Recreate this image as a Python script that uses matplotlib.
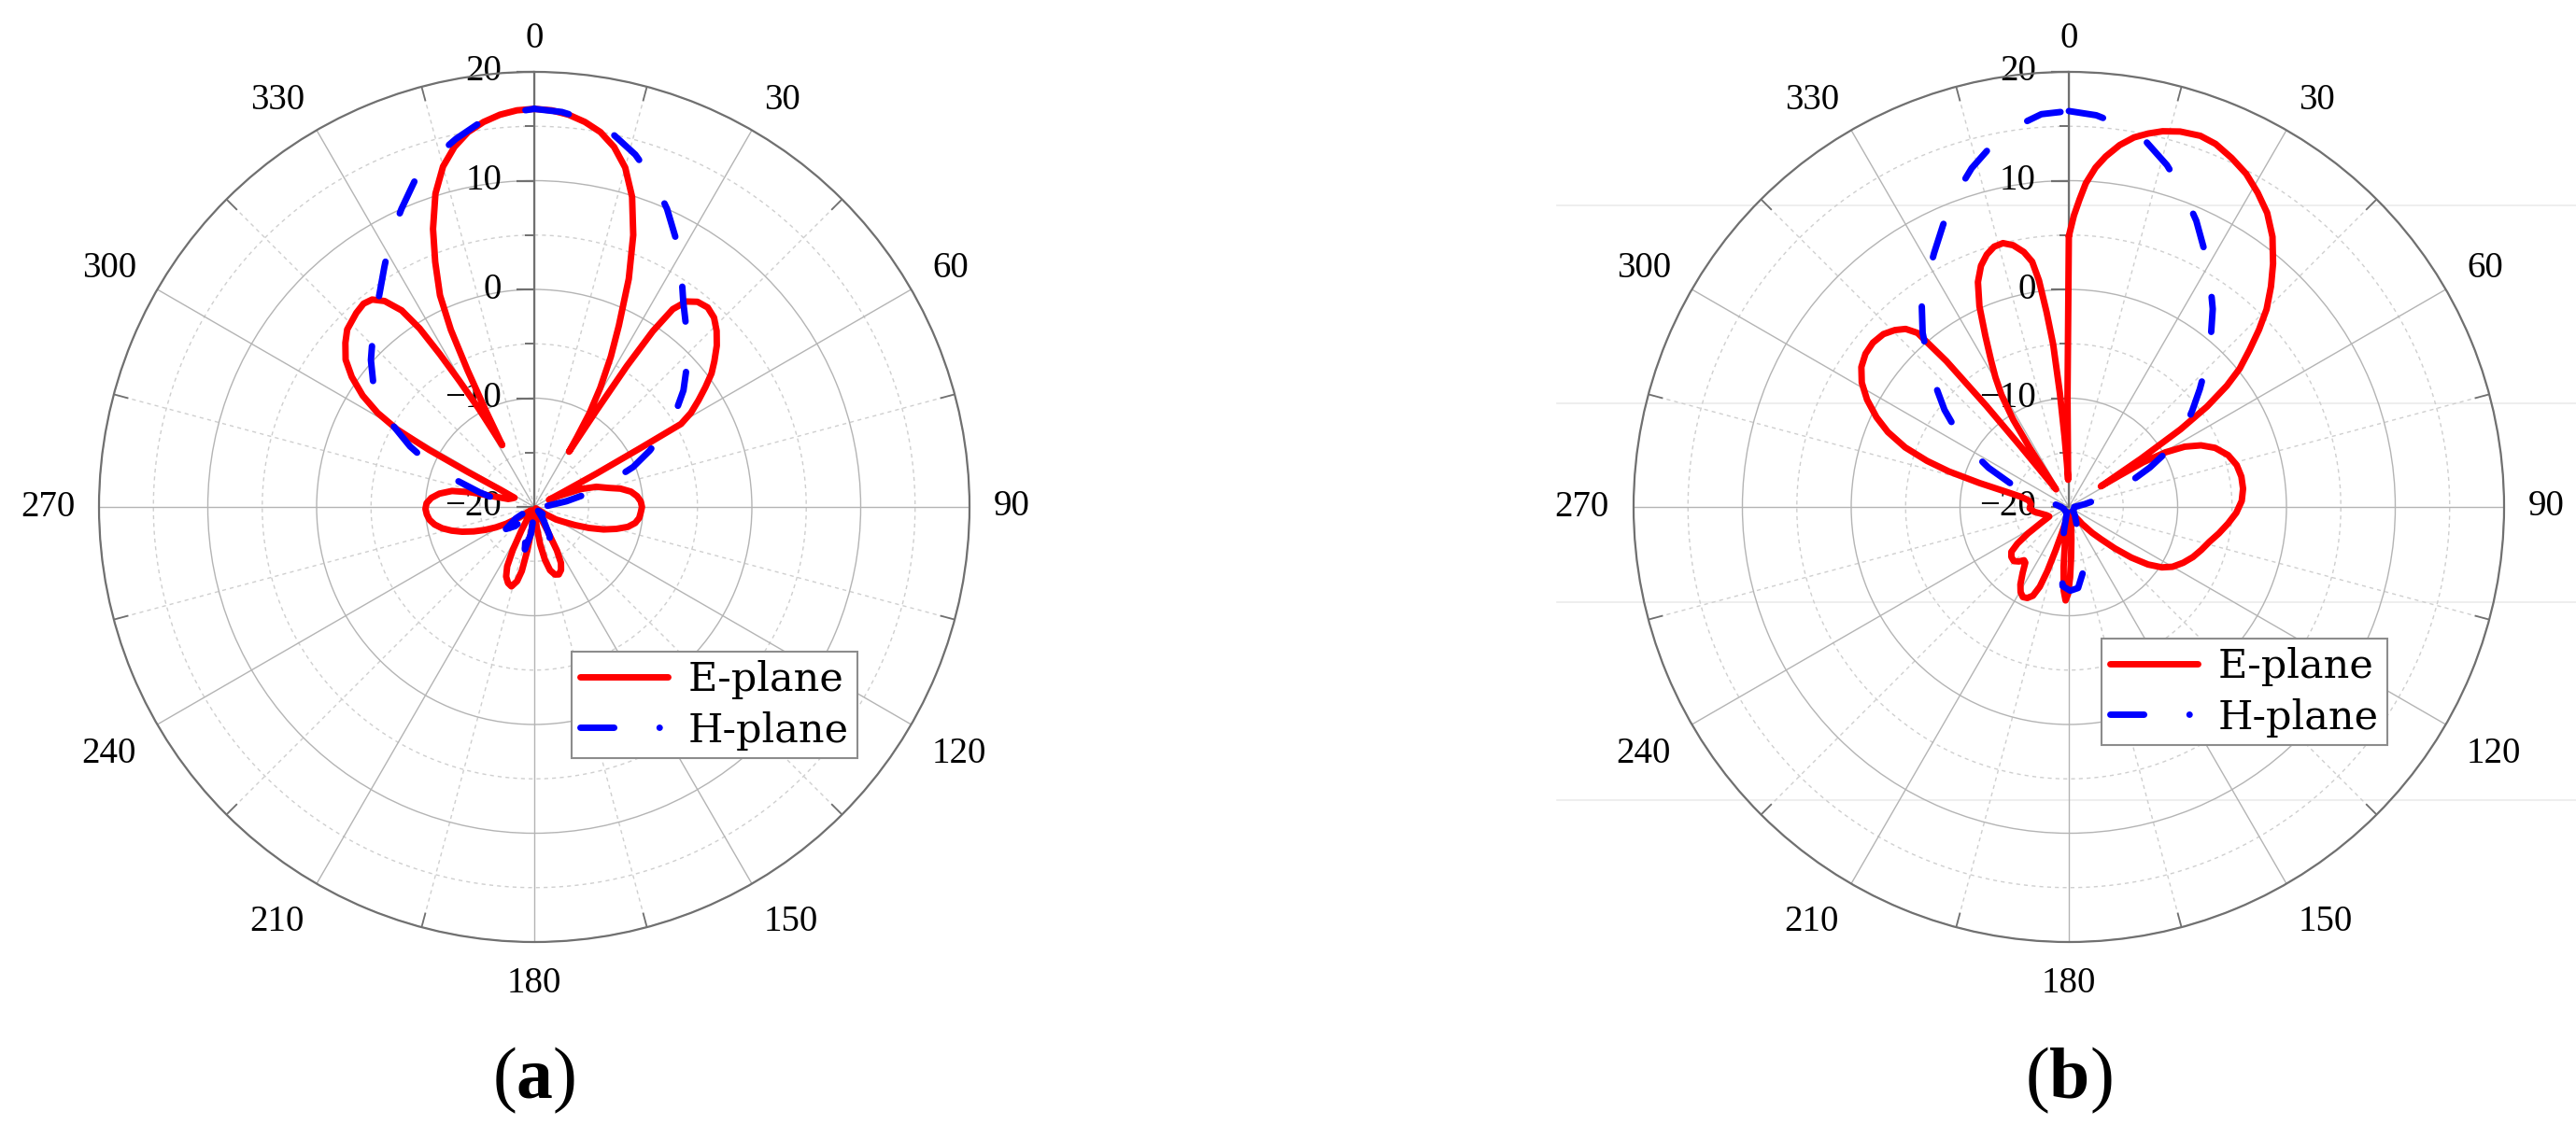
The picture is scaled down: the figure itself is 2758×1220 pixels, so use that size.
import numpy as np
import matplotlib.pyplot as plt
from matplotlib.lines import Line2D
from matplotlib.transforms import offset_copy

plt.rcParams['font.family'] = ['Liberation Serif', 'DejaVu Serif']
plt.rcParams['mathtext.fontset'] = 'custom'
plt.rcParams['mathtext.rm'] = 'Liberation Serif'
plt.rcParams['mathtext.bf'] = 'Liberation Serif:bold'

# (angle in degrees clockwise from top, gain in dB)

# (a) E-plane
a_e_pts = [(0, 16.6), (2.5, 16.5), (5, 16.2), (7.5, 15.7), (10, 15.0), (12.5, 13.9), (15, 12.3),
           (17.5, 9.9), (20, 6.6), (22.5, 2.7), (25, -1.6), (27, -4.5), (29, -7.5), (30.5, -10.0),
           (31.5, -12.5), (32.2, -14.0), (32.8, -9.5), (33.3, -4.5), (34, -0.5), (35, 2.2), (36.5, 3.5),
           (38.5, 4.1), (41, 4.3), (43.5, 4.0), (46, 3.3), (48.5, 2.4), (51, 1.3), (53, 0.4), (55, -0.8),
           (57, -2.0), (59, -3.2), (60.5, -4.5), (61, -9.0), (61.8, -13.5), (62.8, -17.0), (64, -18.5),
           (66, -17.5), (69, -15.4), (72, -14.0), (75.5, -13.0), (78, -11.9), (81, -11.0), (84, -10.5),
           (87, -10.2), (90, -10.1), (93, -10.2), (96, -10.3), (99, -10.6), (102, -11.2), (105, -12.2),
           (108, -13.3), (111, -14.6), (114, -15.9), (117, -17.0), (120, -17.7), (124, -19.0), (130, -19.8),
           (140, -19.8), (149, -19.0), (151, -17.5), (152.5, -15.5), (154.5, -14.3), (157, -13.7),
           (160, -13.4), (163, -13.5), (166, -14.0), (168.5, -15.0), (171, -16.5), (174, -18.5),
           (178, -19.6), (183, -19.6), (186.5, -18.0), (189, -16.0), (191, -14.0), (193, -13.0),
           (196, -12.4), (199, -12.6), (202, -13.1), (204.5, -14.0), (206.5, -15.6), (208.5, -17.5),
           (211, -19.0), (218, -19.6), (228, -19.5), (235, -18.3), (239, -17.0), (242, -16.0), (245, -15.0),
           (248, -14.0), (251, -13.0), (254, -12.1), (257, -11.3), (260, -10.7), (263, -10.3), (266, -10.1),
           (269, -10.0), (272, -10.1), (275, -10.5), (278, -11.2), (281, -12.3), (283, -14.0), (284.5, -16.0),
           (287, -17.5), (291, -17.8), (295, -18.0), (297, -16.5), (297.8, -13.0), (298.5, -9.0),
           (299.5, -5.5), (301, -3.2), (303, -1.2), (305.5, 0.6), (308, 2.0), (311, 3.0), (313.5, 3.7),
           (317.5, 4.2), (320, 4.4), (322, 4.2), (324, 3.4), (326, 1.8), (327.3, -0.5), (328.3, -3.5),
           (329.3, -6.5), (330.5, -9.5), (331.5, -12.0), (332.6, -13.6), (333.3, -10.0), (334, -6.0),
           (334.8, -2.0), (336, 1.3), (338, 4.3), (340, 7.2), (342.5, 10.2), (345, 12.4), (347.5, 13.9),
           (350, 15.0), (352.5, 15.7), (355, 16.2), (357.5, 16.5)]

# (a) H-plane
a_h_pts = [(0, 16.6), (4, 16.4), (8, 15.9), (12, 15.0), (16, 13.7), (20, 12.0), (24, 10.0), (28, 7.8),
           (32, 5.5), (36, 3.3), (40, 1.7), (44, 0.3), (48, -1.2), (52, -2.6), (56, -4.3), (60, -6.2),
           (64, -8.2), (68, -10.2), (72, -12.8), (76, -15.0), (80, -17.0), (84, -18.6), (90, -19.2),
           (100, -19.0), (110, -18.5), (118, -17.5), (123, -17.1), (128, -18.5), (135, -19.5), (145, -18.5),
           (152, -17.0), (156.5, -16.4), (162, -17.5), (170, -19.5), (180, -19.5), (187, -17.5),
           (192.5, -16.0), (198, -17.5), (205, -19.5), (215, -19.0), (225, -17.5), (232, -16.7), (238, -18.0),
           (245, -19.5), (260, -19.5), (272, -18.8), (277, -17.8), (281, -16.6), (285, -14.8), (289, -12.4),
           (292, -9.8), (296, -7.3), (300, -5.0), (304, -2.8), (308, -1.2), (312, 0.2), (316, 1.4), (320, 2.8),
           (324, 4.2), (328, 6.0), (332, 8.1), (336, 10.0), (340, 12.0), (344, 13.4), (348, 14.6),
           (352, 15.7), (356, 16.3)]

# (b) E-plane
b_e_pts = [(0, 4.9), (1, 6.8), (2, 8.3), (3, 9.8), (4.5, 11.3), (6, 12.4), (8, 13.6), (10, 14.5),
           (12, 15.1), (14, 15.6), (16.5, 16.0), (19.5, 16.2), (22, 16.0), (25, 15.4), (28, 14.7), (31, 13.7),
           (34, 12.6), (37, 11.1), (40, 9.2), (42.5, 7.5), (45, 5.7), (47, 3.9), (49, 2.0), (51, 0.2),
           (52.5, -1.7), (54, -4.3), (55.2, -7.5), (56.2, -12.0), (57.2, -16.5), (58.2, -14.5), (59, -12.0),
           (60.5, -9.8), (62.5, -8.0), (65, -6.6), (68, -5.5), (72, -4.6), (76, -4.1), (80, -3.9), (84, -3.9),
           (88, -4.1), (92, -4.6), (96, -5.3), (100, -6.0), (104, -6.7), (108, -7.2), (112, -7.7), (116, -8.3),
           (120, -9.0), (123, -9.8), (126, -11.0), (129, -12.6), (132, -14.3), (135, -15.8), (138, -16.8),
           (142, -18.0), (150, -19.2), (160, -19.5), (168, -19.2), (172, -18.5), (175.5, -17.0),
           (177.5, -15.3), (179, -13.5), (180.5, -12.0), (182, -11.4), (183.5, -12.3), (185, -14.5),
           (186.5, -17.0), (189, -18.7), (192, -18.6), (195, -17.5), (197, -15.8), (198.5, -13.8),
           (200, -12.2), (202, -11.2), (204.5, -10.8), (207, -10.7), (209.5, -11.0), (212, -11.6),
           (215, -12.6), (218, -13.5), (220, -13.6), (222.5, -13.2), (225.5, -12.9), (229, -13.0),
           (232, -13.3), (234.5, -14.2), (237, -15.5), (240, -17.0), (244, -18.0), (250, -17.8),
           (256, -17.4), (262, -16.8), (268, -16.4), (274, -16.5), (279, -16.3), (282, -15.5),
           (283.5, -14.2), (285, -11.5), (286.5, -8.5), (288, -6.3), (290, -4.0), (292.5, -2.0),
           (295, -0.5), (298, 1.0), (301, 2.2), (304, 3.0), (307, 3.4), (310, 3.5), (313, 3.3),
           (315.5, 2.8), (317.5, 2.2), (319, 1.2), (320, -2.5), (320.8, -8.0), (321.5, -13.0),
           (322.5, -16.5), (324, -18.0), (325.5, -16.5), (326.5, -13.5), (327.5, -10.5), (329, -8.0),
           (330.5, -6.3), (332, -4.8), (334, -2.5), (336, 0.2), (338, 2.3), (340, 3.6), (342, 4.4),
           (344, 4.9), (346, 5.0), (348, 4.6), (350, 3.8), (351.5, 2.8), (352.5, 1.0), (353.5, -2.0),
           (354.5, -5.0), (355.5, -9.5), (356.5, -13.5), (357.5, -16.0), (358.5, -17.5), (359.3, -10.0)]

# (b) H-plane
b_h_pts = [(0, 16.4), (4, 16.1), (8, 15.4), (12, 14.3), (16, 12.7), (20, 10.8), (24, 8.8), (28, 6.6),
           (32, 4.5), (36, 2.5), (40, 0.3), (44, -1.8), (48, -3.8), (52, -5.6), (56, -7.2), (60, -9.2),
           (64, -11.7), (68, -14.0), (72, -16.0), (76, -17.5), (80, -18.5), (90, -19.5), (110, -19.5),
           (130, -19.5), (145, -19.0), (150, -18.8), (155.5, -18.3), (161.5, -16.4), (167, -14.0),
           (173.5, -12.5), (179, -12.3), (184.5, -12.7), (189, -15.4), (192, -18.0), (200, -19.5),
           (220, -19.5), (250, -19.5), (270, -19.3), (280, -18.8), (284, -18.2), (288, -17.0), (292, -14.2),
           (296, -11.8), (300, -9.6), (304, -7.6), (308, -5.5), (312, -3.6), (316, -1.4), (320, 0.9),
           (324, 3.0), (328, 4.6), (332, 6.4), (336, 8.4), (340, 10.5), (344, 12.4), (348, 14.0),
           (352, 15.3), (356, 16.2)]

theta_ticks = list(range(0, 360, 30))
theta_labels = [str(d) for d in theta_ticks]
r_ticks = [-20, -10, 0, 10, 20]
r_minor = [-15, -5, 5, 15]
r_labels = ['\u221220', '\u221210', '0', '10', '20']
series_names = ['E-plane', 'H-plane']
panel_tags = ['a', 'b']

W, H = 2758, 1220
fig = plt.figure(figsize=(W / 100, H / 100), dpi=100)

# faint horizontal lines behind the right panel (present in the original scan)
for yy in [220, 432, 645, 857]:
    fig.add_artist(Line2D([1667 / W, 1], [1 - yy / H] * 2, transform=fig.transFigure,
                          color='#ebebeb', lw=1.2, zorder=-1))


def closed(pts):
    ang = np.array([p[0] for p in pts] + [pts[0][0] + 360])
    db = np.array([p[1] for p in pts] + [pts[0][1]])
    return np.radians(ang), db


def polar_panel(cx, cy, R, e_pts, h_pts, leg_xy, tag):
    ax = fig.add_axes([(cx - R) / W, (H - cy - R) / H, 2 * R / W, 2 * R / H], projection='polar')
    ax.set_theta_zero_location('N')
    ax.set_theta_direction(-1)
    ax.set_rlim(-20, 20)
    ax.patch.set_alpha(0)
    ax.set_xticks(np.radians(theta_ticks))
    ax.set_xticklabels([])
    ax.set_yticks([-10, 0, 10, 20])
    ax.set_yticklabels([])
    ax.tick_params(axis='x', length=0)
    ax.grid(True, color='#b4b4b4', lw=1.0)
    ax.spines['polar'].set_color('#707070')
    ax.spines['polar'].set_linewidth(1.6)

    # angle labels, placed just outside the rim and aligned by quadrant
    gap = 26
    for d, lab in zip(theta_ticks, theta_labels):
        s, c = np.sin(np.radians(d)), np.cos(np.radians(d))
        ha = 'left' if s > 0.1 else ('right' if s < -0.1 else 'center')
        va = 'baseline' if c > 0.1 else ('top' if c < -0.1 else 'center')
        tr = offset_copy(ax.transData, fig=fig, x=gap * s, y=gap * c, units='dots')
        ax.text(np.radians(d), 20, lab, transform=tr, ha=ha, va=va, fontsize=28, clip_on=False)

    # dotted minor grid
    th = np.linspace(0, 2 * np.pi, 361)
    for r in r_minor:
        ax.plot(th, np.full_like(th, r), color='#cfcfcf', lw=1.0, ls=(0, (3, 3)), zorder=1)
    for d in range(15, 360, 30):
        ax.plot([np.radians(d)] * 2, [-20, 20], color='#cfcfcf', lw=1.0, ls=(0, (3, 3)), zorder=1)
        ax.plot([np.radians(d)] * 2, [18.7, 20], color='#707070', lw=1.3, zorder=1)

    # radial axis along 0 deg with ticks to the left
    ax.plot([0, 0], [-20, 20], color='#707070', lw=1.6, zorder=2)
    ax.plot(np.zeros(len(r_ticks)), r_ticks, ls='none', marker=0, ms=14, mew=1.6,
            color='#707070', clip_on=False, zorder=2)
    ax.plot(np.zeros(len(r_minor)), r_minor, ls='none', marker=0, ms=7, mew=1.4,
            color='#707070', clip_on=False, zorder=2)
    tr = offset_copy(ax.transData, fig=fig, x=-35, y=0, units='dots')
    for r, lab in zip(r_ticks, r_labels):
        ax.text(0, r, lab, transform=tr, ha='right', va='center', fontsize=28, zorder=2)

    ax.plot(*closed(e_pts), color='#ff0000', lw=5.0, solid_capstyle='round',
            solid_joinstyle='round', zorder=3)
    ax.plot(*closed(h_pts), color='#0000ff', lw=5.0, dashes=(5.4, 7.8),
            dash_capstyle='round', zorder=4)

    handles = [Line2D([], [], color='#ff0000', lw=5.0, solid_capstyle='round'),
               Line2D([], [], color='#0000ff', lw=5.0, dashes=(5.2, 7.0, 0.01, 10),
                      dash_capstyle='round')]
    leg = fig.legend(handles, series_names, loc='upper left',
                     bbox_to_anchor=(leg_xy[0] / W, 1 - leg_xy[1] / H),
                     bbox_transform=fig.transFigure,
                     prop={'family': 'DejaVu Serif', 'size': 31}, frameon=True,
                     fancybox=False, edgecolor='#8c8c8c', framealpha=1,
                     handlelength=2.2, handletextpad=0.5, borderpad=0.2,
                     labelspacing=0.3, borderaxespad=0)
    leg.get_frame().set_linewidth(1.5)

    fig.text(cx / W, 1 - 1157 / H, '($\\mathbf{' + tag + '}$)', ha='center', va='center', fontsize=56)
    return ax


polar_panel(572, 543, 466, a_e_pts, a_h_pts, (612, 698), panel_tags[0])
polar_panel(2215, 543, 466, b_e_pts, b_h_pts, (2250, 684), panel_tags[1])

fig.savefig('out.png', dpi=100)
